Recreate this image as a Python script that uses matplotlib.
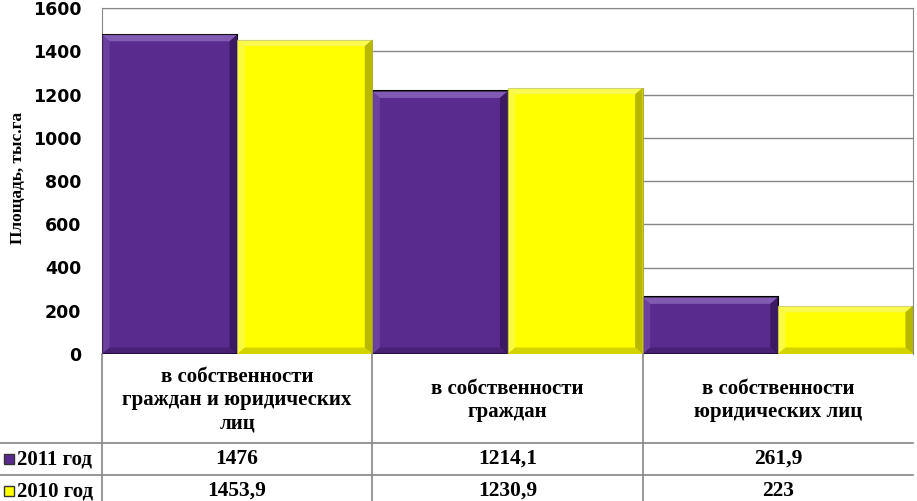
import matplotlib
matplotlib.use('Agg')
import matplotlib.pyplot as plt
from matplotlib.patches import Rectangle, Polygon
from matplotlib.lines import Line2D

# данные
categories = ['в собственности\nграждан и юридических\nлиц',
              'в собственности\nграждан',
              'в собственности\nюридических лиц']
series_names = ['2011 год', '2010 год']
values_2011 = [1476, 1214.1, 261.9]
values_2010 = [1453.9, 1230.9, 223]
labels_2011 = ['1476', '1214,1', '261,9']
labels_2010 = ['1453,9', '1230,9', '223']
y_ticks = [0, 200, 400, 600, 800, 1000, 1200, 1400, 1600]

PURPLE = '#5a2b8e'
YELLOW = '#ffff00'
GRID = '#868686'
SERIF = 'Liberation Serif'

W, H = 917, 501
fig = plt.figure(figsize=(W / 100, H / 100), dpi=100)

# pixel geometry of the plot area
left_px, right_px, top_px, bottom_px = 102, 913, 8, 354
ax = fig.add_axes([left_px / W, 1 - bottom_px / H,
                   (right_px - left_px) / W, (bottom_px - top_px) / H])
ax.set_xlim(-0.5, 2.5)
ax.set_ylim(0, 1600)
ax.set_yticks(y_ticks)
ax.set_yticklabels([str(t) for t in y_ticks], fontsize=12.5, fontweight='bold',
                   family='DejaVu Sans')
ax.tick_params(axis='y', length=0, pad=15)
ax.set_xticks([])
ax.yaxis.grid(True, color=GRID, linewidth=1)
ax.set_axisbelow(True)
ax.spines['bottom'].set_visible(False)
for s in ['left', 'top', 'right']:
    ax.spines[s].set_color(GRID)
fig.text(18 / W, 1 - 178 / H, 'Площадь, тыс.га', family=SERIF, fontweight='bold',
         fontsize=12.5, rotation=90, ha='center', va='center')

x = list(range(len(categories)))
bw = 0.5
bars1 = ax.bar([i - bw / 2 for i in x], values_2011, width=bw, color=PURPLE,
               edgecolor='black', linewidth=1.5, zorder=3)
bars2 = ax.bar([i + bw / 2 for i in x], values_2010, width=bw, color=YELLOW,
               edgecolor='#a0a040', linewidth=0.6, zorder=3)

# простой эффект фаски
def bevel(bars, light, dark, top_alpha):
    bx, by = 0.028, 30
    for b in bars:
        x0, y0 = b.get_x(), b.get_y()
        x1, y1 = x0 + b.get_width(), y0 + b.get_height()
        top = Polygon([(x0, y1), (x1, y1), (x1 - bx, y1 - by), (x0 + bx, y1 - by)],
                      closed=True, facecolor=light, edgecolor='none', zorder=4,
                      alpha=top_alpha)
        right = Polygon([(x1, y1), (x1, y0), (x1 - bx, y0 + by), (x1 - bx, y1 - by)],
                        closed=True, facecolor=dark, edgecolor='none', zorder=4)
        lft = Polygon([(x0, y1), (x0, y0), (x0 + bx, y0 + by), (x0 + bx, y1 - by)],
                      closed=True, facecolor=light, edgecolor='none', zorder=4, alpha=0.4)
        bot = Polygon([(x0, y0), (x1, y0), (x1 - bx, y0 + by), (x0 + bx, y0 + by)],
                      closed=True, facecolor=dark, edgecolor='none', zorder=4, alpha=0.6)
        for p in (top, right, lft, bot):
            ax.add_patch(p)

bevel(bars1, '#8560b8', '#3c1a63', 0.9)
bevel(bars2, '#f4f4a0', '#b8b800', 0.5)

# таблица данных
tab = fig.add_axes([left_px / W, 0, (right_px - left_px) / W, (H - bottom_px) / H])
tab.set_xlim(-0.5, 2.5)
tab_h = H - bottom_px
tab.set_ylim(tab_h, 0)
tab.axis('off')

row_lines = [89, 121]
row_centers = [46, 105, 137]
for yy in row_lines:
    fig.add_artist(Line2D([0, right_px / W], [1 - (bottom_px + yy) / H] * 2,
                          color=GRID, linewidth=1.2))
for xv in [-0.5, 0.5, 1.5]:
    tab.plot([xv, xv], [0, tab_h], color=GRID, linewidth=1.2, clip_on=False)

for i, cat in enumerate(categories):
    tab.text(i, row_centers[0], cat, ha='center', va='center', family=SERIF,
             fontweight='bold', fontsize=15, linespacing=1.2)
    tab.text(i, row_centers[1], labels_2011[i], ha='center', va='center',
             family=SERIF, fontweight='bold', fontsize=15.5)
    tab.text(i, row_centers[2], labels_2010[i], ha='center', va='center',
             family=SERIF, fontweight='bold', fontsize=15.5)

for name, col, rc in zip(series_names, [PURPLE, YELLOW], row_centers[1:]):
    yc = 1 - (bottom_px + rc) / H
    fig.add_artist(Rectangle((4 / W, yc - 5 / H), 10 / W, 10 / H,
                             facecolor=col, edgecolor='#333333', linewidth=1,
                             transform=fig.transFigure))
    fig.text(17 / W, yc, name, ha='left', va='center', family=SERIF,
             fontweight='bold', fontsize=15)

fig.savefig('out.png', dpi=100, facecolor='white')
